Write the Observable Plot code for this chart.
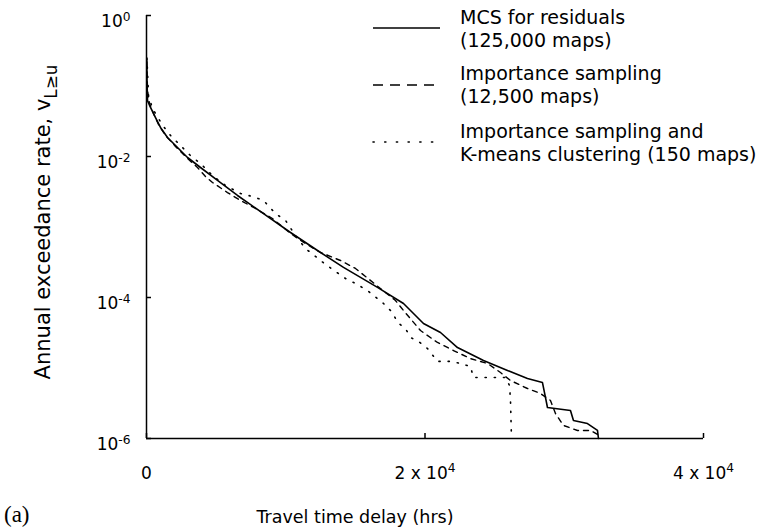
<!DOCTYPE html>
<html><head><meta charset="utf-8">
<script src="https://cdn.jsdelivr.net/npm/d3@7"></script>
<script src="https://cdn.jsdelivr.net/npm/@observablehq/plot@0.6"></script>
<style>body{margin:0;background:#fff} svg{font-family:"DejaVu Sans",sans-serif}</style>
</head><body><div id="chart"></div>
<script>
// MCS for residuals (125,000 maps)
const mcsX = [20, 36, 72, 287, 646, 1005, 1508, 2226, 2944, 3878, 5099, 6535, 8402, 10341, 12280, 14147, 16588, 18455, 19891, 21112, 22333, 24200, 25923, 27359, 28436, 28651, 28795, 30447, 30662, 31668, 32386, 32458];
const mcsV = [0.24, 0.12, 0.062, 0.0496, 0.0357, 0.0258, 0.0186, 0.0134, 0.00968, 0.00698, 0.00457, 0.0028, 0.00155, 0.000835, 0.000464, 0.000267, 0.000139, 0.0000822, 0.0000428, 0.0000319, 0.0000195, 0.0000128, 0.00000922, 0.0000071, 0.00000622, 0.00000382, 0.00000275, 0.0000025, 0.0000018, 0.00000163, 0.0000013, 0.000001];
// Importance sampling (12,500 maps)
const isX = [25, 72, 215, 503, 862, 1364, 2082, 2872, 3662, 4237, 4739, 5816, 6750, 7827, 9048, 10341, 11418, 12495, 13931, 15008, 15726, 16803, 17880, 18455, 19676, 20897, 22046, 23266, 24487, 25421, 26139, 27359, 28293, 29011, 29370, 29944, 30950, 31883, 32386, 32530];
const isV = [0.22, 0.0863, 0.0565, 0.0407, 0.0284, 0.0199, 0.0139, 0.00968, 0.00698, 0.0052, 0.00428, 0.00308, 0.00238, 0.00183, 0.00132, 0.000809, 0.000583, 0.000435, 0.000335, 0.000258, 0.000199, 0.000134, 0.0000906, 0.0000654, 0.000034, 0.000023, 0.0000177, 0.0000136, 0.0000116, 0.00000863, 0.00000665, 0.00000512, 0.00000435, 0.00000346, 0.00000226, 0.00000153, 0.0000013, 0.0000013, 0.00000114, 0.000001];
// Importance sampling and K-means clustering (150 maps)
const kmX = [30, 144, 431, 862, 1221, 1723, 2441, 3159, 3878, 4739, 5673, 6750, 7612, 8402, 9264, 9982, 10700, 11418, 12136, 12854, 13572, 14290, 15152, 15942, 17019, 17665, 18024, 18599, 18958, 19532, 20179, 20897, 21830, 22548, 23266, 23482, 25780, 26067, 26139, 26211];
const kmV = [0.25, 0.0733, 0.048, 0.0346, 0.0267, 0.0199, 0.0143, 0.0103, 0.00796, 0.00537, 0.00388, 0.00299, 0.00271, 0.00238, 0.00155, 0.00124, 0.000757, 0.000495, 0.000382, 0.000294, 0.000234, 0.000186, 0.000153, 0.000122, 0.0000822, 0.0000612, 0.0000442, 0.0000363, 0.0000271, 0.0000238, 0.0000189, 0.0000124, 0.0000124, 0.0000116, 0.0000105, 0.00000733, 0.00000733, 0.00000565, 0.00000346, 0.000001];

const yTicks = [1, 1e-2, 1e-4, 1e-6];
const yTickLabels = ["10^0", "10^-2", "10^-4", "10^-6"];
const xTicks = [0, 20000, 40000];
const xTickLabels = ["0", "2 x 10^4", "4 x 10^4"];
const legendLabels = [
  ["MCS for residuals", "(125,000 maps)"],
  ["Importance sampling", "(12,500 maps)"],
  ["Importance sampling and", "K-means clustering (150 maps)"]
];
const xLabel = "Travel time delay (hrs)";
const yLabel = "Annual exceedance rate, v";
const yLabelSub = "L≥u";
const panelLabel = "(a)";

const W = 764, H = 532, ML = 146, MR = 61, MT = 15, MB = 94;
const rows = (xs, vs) => xs.map((x, i) => ({x, v: vs[i]}));
const FONT = '"DejaVu Sans", sans-serif';

const chart = Plot.plot({
  width: W, height: H,
  marginLeft: ML, marginRight: MR, marginTop: MT, marginBottom: MB,
  style: {fontFamily: FONT, background: "white", color: "black", fontSize: "17px"},
  x: {domain: [0, 40000], axis: null},
  y: {type: "log", domain: [1e-6, 1], axis: null},
  marks: [
    Plot.line(rows(kmX, kmV), {x: "x", y: "v", stroke: "black", strokeWidth: 1.6, strokeDasharray: "1.2,8", strokeLinecap: "round"}),
    Plot.line(rows(isX, isV), {x: "x", y: "v", stroke: "black", strokeWidth: 1.4, strokeDasharray: "5,5"}),
    Plot.line(rows(mcsX, mcsV), {x: "x", y: "v", stroke: "black", strokeWidth: 1.6}),
    Plot.ruleX([0], {stroke: "black", strokeWidth: 1.5}),
    Plot.ruleY([1e-6], {stroke: "black", strokeWidth: 1.5}),
    Plot.tickY(yTicks, {y: d => d, stroke: "black", strokeWidth: 1.5, insetRight: W - ML - MR - 5}),
    Plot.tickX(xTicks, {x: d => d, stroke: "black", strokeWidth: 1.5, insetTop: H - MT - MB - 5}),
    Plot.text(yTicks, {y: d => d, frameAnchor: "left", textAnchor: "end", dx: -16, dy: 6, text: (d, i) => yTickLabels[i], className: "suplab", fontSize: 17, fontWeight: (d, i) => i === 0 ? "bold" : "normal"}),
    Plot.text(xTicks, {x: d => d, frameAnchor: "bottom", textAnchor: "middle", dy: 40, text: (d, i) => xTickLabels[i], className: "suplab", fontSize: 17})
  ]
});

const svg = d3.select(chart);
svg.selectAll("g.suplab text").each(function() {
  const t = d3.select(this);
  const s = t.text();
  if (s.indexOf("^") < 0) return;
  const [b, e] = s.split("^");
  t.text(b);
  t.append("tspan").attr("dy", "-0.5em").attr("font-size", "0.72em").text(e);
});

// legend
const lg = svg.append("g").attr("fill", "black").attr("font-size", 19).attr("text-anchor", "start");
const styles = [null, "10,7", "1.2,10.5"];
const lineY = [28, 85, 142];
const textY = [[17, 40], [73, 96], [131, 154]];
styles.forEach((da, i) => {
  const ln = lg.append("line").attr("x1", 373).attr("x2", 440).attr("y1", lineY[i]).attr("y2", lineY[i])
    .attr("stroke", "black").attr("stroke-width", 1.3);
  if (da) ln.attr("stroke-dasharray", da);
  if (i === 2) ln.attr("stroke-linecap", "round").attr("stroke-width", 1.6);
  legendLabels[i].forEach((s, j) => {
    lg.append("text").attr("x", 460).attr("y", textY[i][j]).attr("dy", "0.35em").text(s);
  });
});

// axis labels
svg.append("text").attr("x", 355).attr("y", 517).attr("dy", "0.35em").attr("text-anchor", "middle")
  .attr("font-size", 17.5).attr("fill", "black").text(xLabel);
const yl = svg.append("text").attr("transform", "translate(43,222) rotate(-90)").attr("text-anchor", "middle")
  .attr("dy", "0.35em").attr("font-size", 21).attr("fill", "black");
yl.append("tspan").text(yLabel);
yl.append("tspan").attr("dy", "0.4em").attr("font-size", "0.8em").text(yLabelSub);
svg.append("text").attr("x", 4).attr("y", 514).attr("dy", "0.35em").attr("text-anchor", "start")
  .attr("font-family", '"Liberation Serif", serif').attr("font-size", 23).attr("fill", "black").text(panelLabel);

document.getElementById("chart").appendChild(chart);
</script>
</body></html>
